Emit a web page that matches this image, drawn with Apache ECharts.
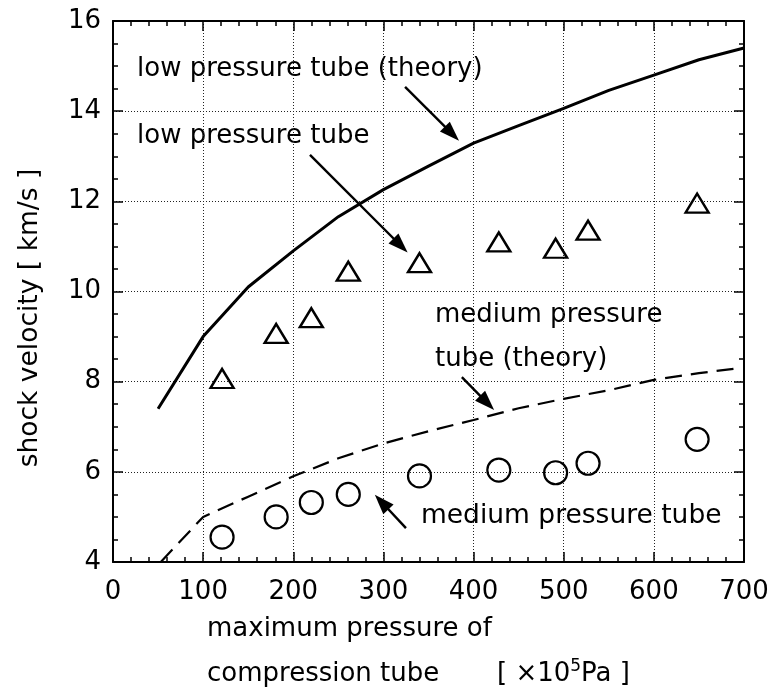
<!DOCTYPE html>
<html>
<head>
<meta charset="utf-8">
<title>shock velocity</title>
<script src="https://cdn.jsdelivr.net/npm/echarts@6/dist/echarts.min.js"></script>
<style>
  html, body { margin: 0; padding: 0; background: #fff; }
  #chart { width: 777px; height: 688px; }
</style>
</head>
<body>
<div id="chart"></div>
<script>
// data
var pressure = [121, 181, 220, 261, 340, 428, 491, 527, 648];
var lowTube = [8.07, 9.07, 9.42, 10.45, 10.64, 11.1, 10.96, 11.36, 11.96];
var mediumTube = [4.55, 5.0, 5.32, 5.5, 5.91, 6.04, 5.98, 6.19, 6.72];

var lowTheoryX = [50, 100, 150, 200, 250, 300, 350, 400, 450, 500, 550, 600, 650, 700];
var lowTheoryY = [7.4, 9.0, 10.1, 10.9, 11.66, 12.26, 12.78, 13.29, 13.68, 14.06, 14.46, 14.8, 15.14, 15.4];

var mediumTheoryX = [53, 100, 150, 200, 250, 300, 350, 400, 450, 500, 550, 600, 650, 695];
var mediumTheoryY = [4.0, 5.0, 5.45, 5.9, 6.3, 6.63, 6.9, 7.15, 7.41, 7.62, 7.81, 8.04, 8.19, 8.3];

var xTicks = { min: 0, max: 700, interval: 100 };
var yTicks = { min: 4, max: 16, interval: 2 };

// annotation arrows, [from, to] in data units
var arrows = [
  [[324, 14.54], [376, 13.5]],
  [[218.5, 13.03], [319, 11.02]],
  [[387, 8.1], [415, 7.53]],
  [[325, 4.75], [298, 5.33]]
];

function zip(a, b) {
  return a.map(function (v, i) { return [v, b[i]]; });
}

var font = 'DejaVu Sans';
var black = '#000';

var chart = echarts.init(document.getElementById('chart'));

var axisCommon = {
  axisLine: { show: true, onZero: false, lineStyle: { color: black, width: 2 } },
  axisTick: { show: true, inside: true, length: 10, lineStyle: { color: black, width: 1.5 } },
  minorTick: { show: true, length: 5, lineStyle: { color: black, width: 1.5 } }
};

chart.setOption({
  animation: false,
  backgroundColor: '#fff',
  grid: { left: 113, top: 21, right: 33, bottom: 126, containLabel: false },
  xAxis: [
    Object.assign({
      type: 'value',
      min: xTicks.min, max: xTicks.max, interval: xTicks.interval,
      position: 'bottom',
      axisLabel: { color: black, fontFamily: font, fontSize: 26, margin: 17 },
      splitLine: { show: true, lineStyle: { color: '#222', width: 1, type: [1, 2] } }
    }, axisCommon, { minorTick: Object.assign({}, axisCommon.minorTick, { splitNumber: 5 }) }),
    Object.assign({
      type: 'value',
      min: xTicks.min, max: xTicks.max, interval: xTicks.interval,
      position: 'top',
      axisLabel: { show: false },
      splitLine: { show: false }
    }, axisCommon, { minorTick: Object.assign({}, axisCommon.minorTick, { splitNumber: 5 }) })
  ],
  yAxis: [
    Object.assign({
      type: 'value',
      min: yTicks.min, max: yTicks.max, interval: yTicks.interval,
      position: 'left',
      axisLabel: { color: black, fontFamily: font, fontSize: 26, margin: 12 },
      splitLine: { show: true, lineStyle: { color: '#222', width: 1, type: [1, 2] } }
    }, axisCommon, { minorTick: Object.assign({}, axisCommon.minorTick, { splitNumber: 4 }) }),
    Object.assign({
      type: 'value',
      min: yTicks.min, max: yTicks.max, interval: yTicks.interval,
      position: 'right',
      axisLabel: { show: false },
      splitLine: { show: false }
    }, axisCommon, { minorTick: Object.assign({}, axisCommon.minorTick, { splitNumber: 4 }) })
  ],
  series: [
    {
      name: 'low pressure tube (theory)',
      type: 'line',
      data: zip(lowTheoryX, lowTheoryY),
      showSymbol: false,
      lineStyle: { color: black, width: 3 },
      silent: true
    },
    {
      name: 'medium pressure tube (theory)',
      type: 'line',
      data: zip(mediumTheoryX, mediumTheoryY),
      showSymbol: false,
      lineStyle: { color: black, width: 2.2, type: [17, 9] },
      silent: true
    },
    {
      name: 'low pressure tube',
      type: 'scatter',
      data: zip(pressure, lowTube),
      symbol: 'triangle',
      symbolSize: [23, 19],
      itemStyle: { color: 'rgba(0,0,0,0)', borderColor: black, borderWidth: 2.4, opacity: 1 },
      markLine: {
        silent: true,
        symbol: ['none', 'triangle'],
        symbolSize: [14, 20],
        label: { show: false },
        lineStyle: { color: black, width: 2.4, type: 'solid', opacity: 1 },
        itemStyle: { color: black, opacity: 1 },
        data: arrows.map(function (a) {
          return [{ coord: a[0] }, { coord: a[1] }];
        })
      }
    },
    {
      name: 'medium pressure tube',
      type: 'scatter',
      data: zip(pressure, mediumTube),
      symbol: 'circle',
      symbolSize: 23,
      itemStyle: { color: 'rgba(0,0,0,0)', borderColor: black, borderWidth: 2.2, opacity: 1 }
    }
  ],
  graphic: [
    { type: 'text', x: 137, y: 69, style: { text: 'low pressure tube (theory)', font: '26px ' + font, fill: black, verticalAlign: 'middle' } },
    { type: 'text', x: 137, y: 136, style: { text: 'low pressure tube', font: '26px ' + font, fill: black, verticalAlign: 'middle' } },
    { type: 'text', x: 435, y: 315, style: { text: 'medium pressure', font: '26px ' + font, fill: black, verticalAlign: 'middle' } },
    { type: 'text', x: 435, y: 359, style: { text: 'tube (theory)', font: '26px ' + font, fill: black, verticalAlign: 'middle' } },
    { type: 'text', x: 421, y: 516, style: { text: 'medium pressure tube', font: '26.5px ' + font, fill: black, verticalAlign: 'middle' } },
    { type: 'text', x: 30, y: 318, rotation: Math.PI / 2, style: { text: 'shock velocity [ km/s ]', font: '26.5px ' + font, fill: black, align: 'center', verticalAlign: 'middle' } },
    { type: 'text', x: 207, y: 629, style: { text: 'maximum pressure of', font: '26px ' + font, fill: black, verticalAlign: 'middle' } },
    { type: 'text', x: 207, y: 674, style: { text: 'compression tube', font: '26px ' + font, fill: black, verticalAlign: 'middle' } },
    {
      type: 'text', x: 497, y: 674,
      style: {
        text: '{n|[ ×10}{s|5}{n|Pa ]}',
        verticalAlign: 'middle',
        rich: {
          n: { fontFamily: font, fontSize: 26, color: black },
          s: { fontFamily: font, fontSize: 17, color: black, padding: [0, 0, 14, 0] }
        }
      }
    }
  ]
});
</script>
</body>
</html>
